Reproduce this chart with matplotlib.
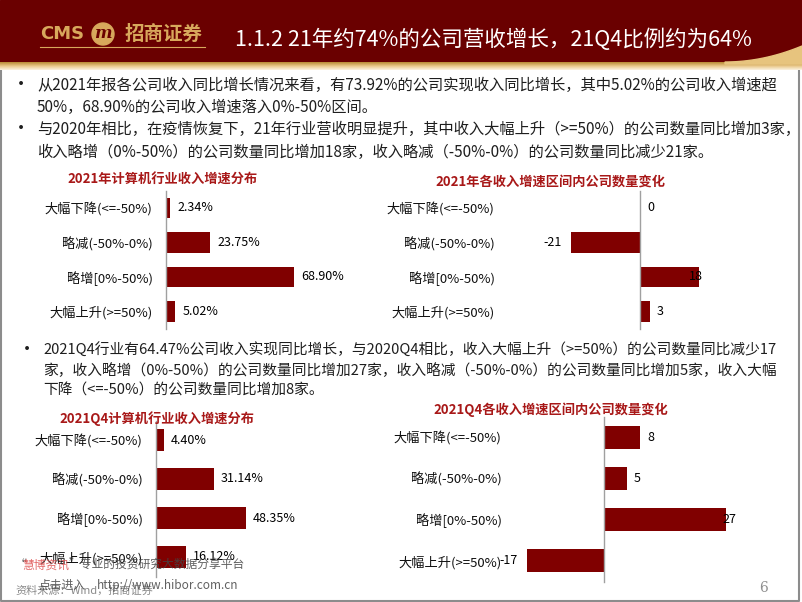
import numpy as np
import matplotlib
matplotlib.use("Agg")
import matplotlib.pyplot as plt
from matplotlib.colors import LinearSegmentedColormap
from matplotlib.patches import Rectangle, Circle, Polygon

plt.rcParams.update({
    "font.family": ["Noto Sans CJK SC", "DejaVu Sans"],
    "axes.unicode_minus": False,
})

W, H = 802, 602
HEADER_RED = "#6a0000"
BAR_RED = "#800000"
TITLE_RED = "#a81818"
GOLD = "#d8a85c"
TEXT = "#1e1e1e"
GRAY = "#a0a0a0"

# ---- data ----
categories = ["大幅下降(<=-50%)", "略减(-50%-0%)", "略增[0%-50%)", "大幅上升(>=50%)"]
share_2021 = [2.34, 23.75, 68.90, 5.02]
change_2021 = [0, -21, 18, 3]
share_q4 = [4.40, 31.14, 48.35, 16.12]
change_q4 = [8, 5, 27, -17]

page_title = "1.1.2 21年约74%的公司营收增长，21Q4比例约为64%"
para1 = ["从2021年报各公司收入同比增长情况来看，有73.92%的公司实现收入同比增长，其中5.02%的公司收入增速超",
         "50%，68.90%的公司收入增速落入0%-50%区间。"]
para2 = ["与2020年相比，在疫情恢复下，21年行业营收明显提升，其中收入大幅上升（>=50%）的公司数量同比增加3家，",
         "收入略增（0%-50%）的公司数量同比增加18家，收入略减（-50%-0%）的公司数量同比减少21家。"]
para3 = ["2021Q4行业有64.47%公司收入实现同比增长，与2020Q4相比，收入大幅上升（>=50%）的公司数量同比减少17",
         "家，收入略增（0%-50%）的公司数量同比增加27家，收入略减（-50%-0%）的公司数量同比增加5家，收入大幅",
         "下降（<=-50%）的公司数量同比增加8家。"]


def px_axes(fig, left, top, right, bottom):
    return fig.add_axes([left / W, 1 - bottom / H, (right - left) / W, (bottom - top) / H])


def bar_chart(fig, box, xlim, values, fmt, bar_h, title, title_xy, label_pad):
    ax = px_axes(fig, *box)
    y = np.arange(len(values))
    ax.barh(y, values, height=bar_h, color=BAR_RED, zorder=2)
    ax.set_xlim(*xlim)
    ax.set_ylim(len(values) - 0.5, -0.5)
    ax.axvline(0, color=GRAY, lw=1.0, zorder=3, clip_on=False)
    for s in ax.spines.values():
        s.set_visible(False)
    ax.set_xticks([])
    ax.set_yticks(y)
    ax.set_yticklabels(categories, fontsize=9.5, color="#111111")
    ax.tick_params(axis="y", length=0, pad=label_pad)
    ax.patch.set_alpha(0)
    span = xlim[1] - xlim[0]
    scale = (box[2] - box[0]) / span
    for i, v in enumerate(values):
        s = fmt(v)
        wpx = len(s) * 7.2
        if v < 0:
            ax.annotate(s, (v, i), xytext=(-6.5, 0), textcoords="offset points",
                        ha="right", va="center", fontsize=9)
        elif (v - xlim[0]) * scale + 7 + wpx > span * scale:
            # no room outside the bar end: pull the label back inside the plot area
            ax.annotate(s, (xlim[1], i), ha="right", va="center", fontsize=9)
        else:
            ax.annotate(s, (v, i), xytext=(5, 0), textcoords="offset points",
                        ha="left", va="center", fontsize=9)
    fig.text(title_xy[0] / W, 1 - title_xy[1] / H, title, ha="center", va="center",
             fontsize=9.5, color=TITLE_RED, fontweight="bold")
    return ax


fig = plt.figure(figsize=(8.02, 6.02), dpi=100)
bg = fig.add_axes([0, 0, 1, 1])
bg.set_xlim(0, W)
bg.set_ylim(H, 0)
bg.axis("off")

# header band
bg.add_patch(Rectangle((0, 0), W, 62, color=HEADER_RED, zorder=1))
grad = np.linspace(0, 1, 32).reshape(-1, 1)
gold_cmap = LinearSegmentedColormap.from_list("gold", ["#b98a34", "#e9c88a", "#fbf2e0"])
bg.imshow(grad, extent=[0, W, 70, 62], aspect="auto", cmap=gold_cmap, zorder=2)
cx = np.linspace(725, W, 40)
cy = 62 - 16 * ((cx - 725) / (W - 725)) ** 2
curve = np.column_stack([np.r_[cx, W, 725], np.r_[cy, 64, 64]])
bg.add_patch(Polygon(curve, closed=True, color="#e7c47e", zorder=3))
bg.set_xlim(0, W)
bg.set_ylim(H, 0)

# logo
bg.text(40, 34, "CMS", color=GOLD, fontsize=13, fontweight="bold", va="center", ha="left",
        family="DejaVu Sans", zorder=4)
bg.add_patch(Circle((103, 34), 11, color=GOLD, zorder=4))
bg.text(103, 34, "m", color=HEADER_RED, fontsize=12, fontweight="bold", style="italic",
        ha="center", va="center", family="DejaVu Serif", zorder=5)
bg.text(125, 34, "招商证券", color=GOLD, fontsize=14, fontweight="bold", va="center", ha="left", zorder=4)
bg.plot([40, 205], [47, 47], color=GOLD, lw=0.8, zorder=4)
bg.text(235, 40, page_title, color="white", fontsize=15.5, va="center", ha="left", zorder=4)

# slide frame
bg.plot([1, 1, 799, 799], [70, 600.5, 600.5, 70], color="#8c8c8c", lw=1.5, zorder=1)

# paragraphs
for (bx, tx, ys, lines, fs) in [(12, 37, [85, 107], para1, 11), (12, 37, [129, 152], para2, 11),
                                 (18, 43, [350, 371, 391], para3, 10.6)]:
    bg.text(bx, ys[0], "•", fontsize=13, color=TEXT, va="center", ha="left")
    for yy, line in zip(ys, lines):
        bg.text(tx, yy, line, fontsize=fs, color=TEXT, va="center", ha="left")

# charts
bar_chart(fig, (166, 190.75, 380, 328.75), (0, 115), share_2021, lambda v: f"{v:.2f}%",
          0.58, "2021年计算机行业收入增速分布", (163, 180), 9.5)
bar_chart(fig, (505, 190.75, 703, 328.75), (-40.9, 19.1), change_2021, lambda v: f"{v:d}",
          0.58, "2021年各收入增速区间内公司数量变化", (550, 182), 7.5)
bar_chart(fig, (156, 420.5, 371, 576.5), (0, 115.6), share_q4, lambda v: f"{v:.2f}%",
          0.56, "2021Q4计算机行业收入增速分布", (157, 419), 9.5)
bar_chart(fig, (510, 416.5, 736, 581.5), (-20.75, 29.14), change_q4, lambda v: f"{v:d}",
          0.56, "2021Q4各收入增速区间内公司数量变化", (551, 410), 6)

# overlay: source, watermark, page number
ov = fig.add_axes([0, 0, 1, 1])
ov.set_xlim(0, W)
ov.set_ylim(H, 0)
ov.axis("off")
ov.patch.set_alpha(0)
ov.text(15, 590, "资料来源：Wind，招商证券", fontsize=8, color="#8a8a8a", va="center", ha="left")
ov.text(15, 565, "“", fontsize=8.5, color="#555555", va="center", ha="left")
ov.text(22, 565, "慧博资讯", fontsize=8.5, color="#e05a5a", va="center", ha="left", alpha=0.9)
ov.text(69, 565, "”专业的投资研究大数据分享平台", fontsize=8.5, color="#444444", va="center", ha="left",
        alpha=0.85)
ov.text(38, 585, "点击进入", fontsize=8.5, color="#444444", va="center", ha="left", alpha=0.85)
ov.text(97, 585, "http://www.hibor.com.cn", fontsize=8.5, color="#444444", va="center", ha="left",
        alpha=0.85)
ov.text(763, 588, "6", fontsize=10, color="#909090", va="center", ha="center", family="DejaVu Serif")

fig.savefig("out.png", dpi=100)
